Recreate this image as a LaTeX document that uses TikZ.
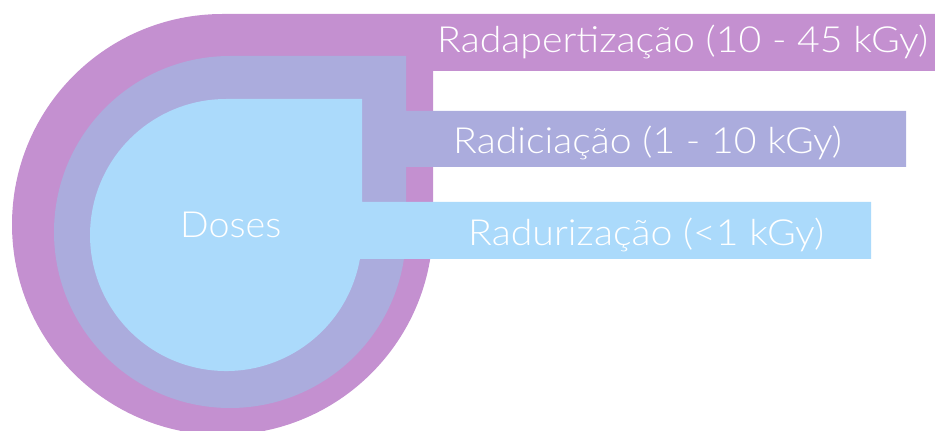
\documentclass[tikz,border=0pt]{standalone}
\usepackage{fontspec}
\setmainfont{Lato}[UprightFont=* Light]
\definecolor{cpurple}{HTML}{C490D0}
\definecolor{clav}{HTML}{ABACDD}
\definecolor{cblue}{HTML}{ABDAFB}
\tikzset{
  lbl/.style={anchor=base west, inner sep=0pt, text=white, xscale=1.09, font=\fontsize{36}{40}\selectfont},
}
\begin{document}
\begin{tikzpicture}[x=1pt,y=1pt]
\useasboundingbox (0,0) rectangle (935,431);
% outer purple
\fill[cpurple] (222.5,417) -- (935,417) -- (935,360) -- (433,360) -- (433,206.5)
  arc[start angle=0,end angle=-270,radius=210.5pt] -- cycle;
% lavender
\fill[clav] (230,375) -- (406,375) -- (406,320) -- (906,320) -- (906,264) -- (406,264) -- (406,199)
  arc[start angle=0,end angle=-270,radius=176pt] -- cycle;
% light blue
\fill[cblue] (226,332) -- (362,332) -- (362,229) -- (871,229) -- (871,172) -- (359.9,172)
  arc[start angle=-10.16,end angle=-270,radius=136pt] -- cycle;
\node[lbl] (t1) at (437,378) {Radapertização (10 - 45 kGy)};
\node[lbl] (t2) at (453,277) {Radiciação (1 - 10 kGy)};
\node[lbl] (t3) at (468,185) {Radurização (<1 kGy)};
\node[lbl, xscale=0.96] (t0) at (180,193) {Doses};
\end{tikzpicture}
\end{document}
